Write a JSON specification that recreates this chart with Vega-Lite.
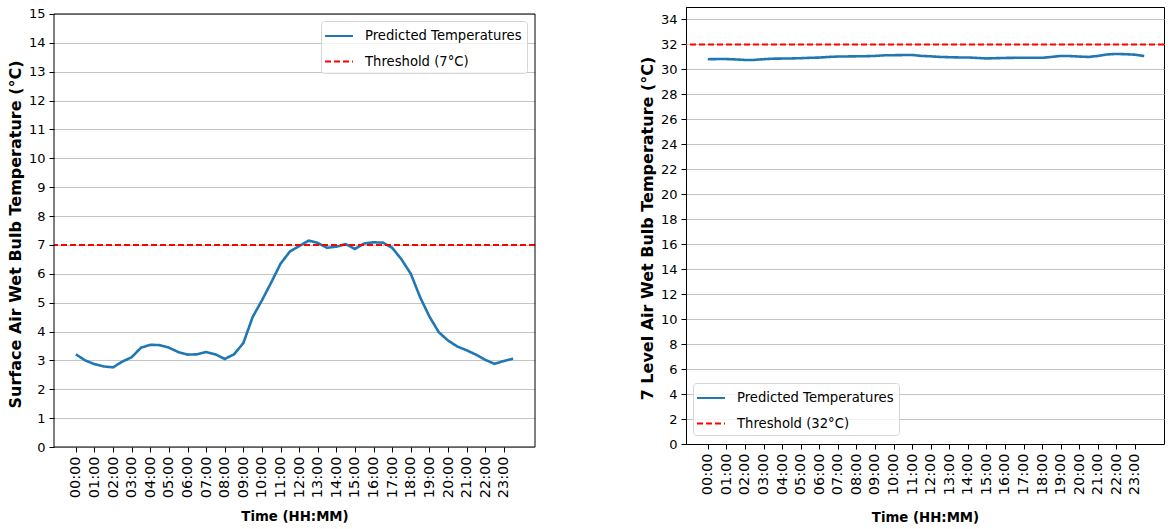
{
  "$schema": "https://vega.github.io/schema/vega-lite/v6.json",
  "padding": {"left": 7, "top": 6, "right": 0, "bottom": 0},
  "background": "white",
  "spacing": 102,
  "config": {
    "font": "DejaVu Sans",
    "view": {"stroke": "#000", "strokeWidth": 1},
    "axis": {"domainColor": "#000", "tickColor": "#000", "tickSize": 5, "labelFontSize": 13, "labelColor": "#000", "labelFont": "DejaVu Sans", "titleFont": "DejaVu Sans", "titleFontSize": 16, "titleFontWeight": "bold", "titleColor": "#000", "labelPadding": 4, "titlePadding": 5, "labelOverlap": false},
    "axisY": {"grid": true, "gridColor": "#c4c4c4", "gridWidth": 1},
    "axisX": {"grid": false, "labelAngle": -90, "labelFontSize": 14.5, "titleFontSize": 13.3, "titlePadding": 12},
    "legend": {"title": null, "symbolType": "M-1.6,0H1.6", "symbolSize": 306, "symbolStrokeWidth": 2.2, "symbolOffset": 3, "labelFontSize": 13.2, "labelFont": "DejaVu Sans", "labelColor": "#000", "labelOffset": 16, "padding": 5, "rowPadding": 8.5, "fillColor": "rgba(255,255,255,0.8)", "strokeColor": "#d6d6d6", "cornerRadius": 3}
  },
  "datasets": {
    "surface": [
      {"hour": 0, "temp": 3.21, "series": "Predicted Temperatures"},
      {"hour": 0.5, "temp": 3.0, "series": "Predicted Temperatures"},
      {"hour": 1, "temp": 2.87, "series": "Predicted Temperatures"},
      {"hour": 1.5, "temp": 2.79, "series": "Predicted Temperatures"},
      {"hour": 2, "temp": 2.76, "series": "Predicted Temperatures"},
      {"hour": 2.5, "temp": 2.96, "series": "Predicted Temperatures"},
      {"hour": 3, "temp": 3.11, "series": "Predicted Temperatures"},
      {"hour": 3.5, "temp": 3.44, "series": "Predicted Temperatures"},
      {"hour": 4, "temp": 3.54, "series": "Predicted Temperatures"},
      {"hour": 4.5, "temp": 3.53, "series": "Predicted Temperatures"},
      {"hour": 5, "temp": 3.44, "series": "Predicted Temperatures"},
      {"hour": 5.5, "temp": 3.29, "series": "Predicted Temperatures"},
      {"hour": 6, "temp": 3.2, "series": "Predicted Temperatures"},
      {"hour": 6.5, "temp": 3.21, "series": "Predicted Temperatures"},
      {"hour": 7, "temp": 3.29, "series": "Predicted Temperatures"},
      {"hour": 7.5, "temp": 3.21, "series": "Predicted Temperatures"},
      {"hour": 8, "temp": 3.05, "series": "Predicted Temperatures"},
      {"hour": 8.5, "temp": 3.21, "series": "Predicted Temperatures"},
      {"hour": 9, "temp": 3.6, "series": "Predicted Temperatures"},
      {"hour": 9.5, "temp": 4.5, "series": "Predicted Temperatures"},
      {"hour": 10, "temp": 5.08, "series": "Predicted Temperatures"},
      {"hour": 10.5, "temp": 5.7, "series": "Predicted Temperatures"},
      {"hour": 11, "temp": 6.35, "series": "Predicted Temperatures"},
      {"hour": 11.5, "temp": 6.77, "series": "Predicted Temperatures"},
      {"hour": 12, "temp": 6.96, "series": "Predicted Temperatures"},
      {"hour": 12.5, "temp": 7.15, "series": "Predicted Temperatures"},
      {"hour": 13, "temp": 7.07, "series": "Predicted Temperatures"},
      {"hour": 13.5, "temp": 6.9, "series": "Predicted Temperatures"},
      {"hour": 14, "temp": 6.94, "series": "Predicted Temperatures"},
      {"hour": 14.5, "temp": 7.03, "series": "Predicted Temperatures"},
      {"hour": 15, "temp": 6.86, "series": "Predicted Temperatures"},
      {"hour": 15.5, "temp": 7.05, "series": "Predicted Temperatures"},
      {"hour": 16, "temp": 7.09, "series": "Predicted Temperatures"},
      {"hour": 16.5, "temp": 7.08, "series": "Predicted Temperatures"},
      {"hour": 17, "temp": 6.9, "series": "Predicted Temperatures"},
      {"hour": 17.5, "temp": 6.5, "series": "Predicted Temperatures"},
      {"hour": 18, "temp": 6.0, "series": "Predicted Temperatures"},
      {"hour": 18.5, "temp": 5.19, "series": "Predicted Temperatures"},
      {"hour": 19, "temp": 4.52, "series": "Predicted Temperatures"},
      {"hour": 19.5, "temp": 3.98, "series": "Predicted Temperatures"},
      {"hour": 20, "temp": 3.69, "series": "Predicted Temperatures"},
      {"hour": 20.5, "temp": 3.48, "series": "Predicted Temperatures"},
      {"hour": 21, "temp": 3.35, "series": "Predicted Temperatures"},
      {"hour": 21.5, "temp": 3.2, "series": "Predicted Temperatures"},
      {"hour": 22, "temp": 3.02, "series": "Predicted Temperatures"},
      {"hour": 22.5, "temp": 2.88, "series": "Predicted Temperatures"},
      {"hour": 23, "temp": 2.98, "series": "Predicted Temperatures"},
      {"hour": 23.5, "temp": 3.06, "series": "Predicted Temperatures"}
    ],
    "level7": [
      {"hour": 0, "temp": 30.82, "series": "Predicted Temperatures"},
      {"hour": 0.5, "temp": 30.83, "series": "Predicted Temperatures"},
      {"hour": 1, "temp": 30.83, "series": "Predicted Temperatures"},
      {"hour": 1.5, "temp": 30.8, "series": "Predicted Temperatures"},
      {"hour": 2, "temp": 30.76, "series": "Predicted Temperatures"},
      {"hour": 2.5, "temp": 30.76, "series": "Predicted Temperatures"},
      {"hour": 3, "temp": 30.82, "series": "Predicted Temperatures"},
      {"hour": 3.5, "temp": 30.86, "series": "Predicted Temperatures"},
      {"hour": 4, "temp": 30.87, "series": "Predicted Temperatures"},
      {"hour": 4.5, "temp": 30.88, "series": "Predicted Temperatures"},
      {"hour": 5, "temp": 30.9, "series": "Predicted Temperatures"},
      {"hour": 5.5, "temp": 30.93, "series": "Predicted Temperatures"},
      {"hour": 6, "temp": 30.95, "series": "Predicted Temperatures"},
      {"hour": 6.5, "temp": 31.0, "series": "Predicted Temperatures"},
      {"hour": 7, "temp": 31.03, "series": "Predicted Temperatures"},
      {"hour": 7.5, "temp": 31.04, "series": "Predicted Temperatures"},
      {"hour": 8, "temp": 31.05, "series": "Predicted Temperatures"},
      {"hour": 8.5, "temp": 31.06, "series": "Predicted Temperatures"},
      {"hour": 9, "temp": 31.08, "series": "Predicted Temperatures"},
      {"hour": 9.5, "temp": 31.13, "series": "Predicted Temperatures"},
      {"hour": 10, "temp": 31.14, "series": "Predicted Temperatures"},
      {"hour": 10.5, "temp": 31.15, "series": "Predicted Temperatures"},
      {"hour": 11, "temp": 31.16, "series": "Predicted Temperatures"},
      {"hour": 11.5, "temp": 31.08, "series": "Predicted Temperatures"},
      {"hour": 12, "temp": 31.05, "series": "Predicted Temperatures"},
      {"hour": 12.5, "temp": 31.0, "series": "Predicted Temperatures"},
      {"hour": 13, "temp": 30.98, "series": "Predicted Temperatures"},
      {"hour": 13.5, "temp": 30.96, "series": "Predicted Temperatures"},
      {"hour": 14, "temp": 30.96, "series": "Predicted Temperatures"},
      {"hour": 14.5, "temp": 30.92, "series": "Predicted Temperatures"},
      {"hour": 15, "temp": 30.88, "series": "Predicted Temperatures"},
      {"hour": 15.5, "temp": 30.9, "series": "Predicted Temperatures"},
      {"hour": 16, "temp": 30.92, "series": "Predicted Temperatures"},
      {"hour": 16.5, "temp": 30.93, "series": "Predicted Temperatures"},
      {"hour": 17, "temp": 30.94, "series": "Predicted Temperatures"},
      {"hour": 17.5, "temp": 30.93, "series": "Predicted Temperatures"},
      {"hour": 18, "temp": 30.93, "series": "Predicted Temperatures"},
      {"hour": 18.5, "temp": 31.0, "series": "Predicted Temperatures"},
      {"hour": 19, "temp": 31.08, "series": "Predicted Temperatures"},
      {"hour": 19.5, "temp": 31.07, "series": "Predicted Temperatures"},
      {"hour": 20, "temp": 31.03, "series": "Predicted Temperatures"},
      {"hour": 20.5, "temp": 31.0, "series": "Predicted Temperatures"},
      {"hour": 21, "temp": 31.08, "series": "Predicted Temperatures"},
      {"hour": 21.5, "temp": 31.2, "series": "Predicted Temperatures"},
      {"hour": 22, "temp": 31.24, "series": "Predicted Temperatures"},
      {"hour": 22.5, "temp": 31.22, "series": "Predicted Temperatures"},
      {"hour": 23, "temp": 31.18, "series": "Predicted Temperatures"},
      {"hour": 23.5, "temp": 31.07, "series": "Predicted Temperatures"}
    ],
    "thr1": [{"series": "Threshold (7°C)", "value": 7}],
    "thr2": [{"series": "Threshold (32°C)", "value": 32}]
  },
  "resolve": {"scale": {"color": "independent", "strokeDash": "independent", "x": "independent", "y": "independent"}},
  "hconcat": [
    {
      "width": 481,
      "height": 440,
      "view": {"stroke": null},
      "layer": [
        {
          "data": {"name": "surface"},
          "mark": {"type": "line", "strokeWidth": 2.6},
          "encoding": {
            "x": {"field": "hour", "type": "quantitative", "scale": {"domain": [-1.175, 24.675], "nice": false, "zero": false}, "axis": {"domain": false, "titlePadding": 12, "values": [0,1,2,3,4,5,6,7,8,9,10,11,12,13,14,15,16,17,18,19,20,21,22,23], "labelExpr": "(datum.value < 10 ? '0' : '') + datum.value + ':00'", "title": "Time (HH:MM)"}},
            "y": {"field": "temp", "type": "quantitative", "scale": {"domain": [0, 15.242], "nice": false}, "axis": {"domain": false, "titleY": 227, "values": [0,1,2,3,4,5,6,7,8,9,10,11,12,13,14,15], "title": "Surface Air Wet Bulb Temperature (°C)"}},
            "color": {"field": "series", "type": "nominal", "scale": {"domain": ["Predicted Temperatures", "Threshold (7°C)"], "range": ["#1f77b4", "#ff0000"]}, "legend": {"orient": "none", "legendX": 267, "legendY": 14}},
            "strokeDash": {"field": "series", "type": "nominal", "scale": {"domain": ["Predicted Temperatures", "Threshold (7°C)"], "range": [[1, 0], [6, 3]]}, "legend": {"orient": "none", "legendX": 267, "legendY": 14}}
          }
        },
        {
          "data": {"name": "thr1"},
          "mark": {"type": "rule", "strokeWidth": 2},
          "encoding": {
            "y": {"field": "value", "type": "quantitative", "axis": {"domain": false, "titleY": 227, "values": [0,1,2,3,4,5,6,7,8,9,10,11,12,13,14,15], "title": "Surface Air Wet Bulb Temperature (°C)"}},
            "color": {"field": "series", "type": "nominal"},
            "strokeDash": {"field": "series", "type": "nominal"}
          }
        },
        {
          "data": {"values": [{}]},
          "mark": {"type": "rect", "filled": false, "stroke": "#000", "strokeWidth": 1},
          "encoding": {
            "x": {"datum": -1.175, "type": "quantitative", "axis": {"domain": false, "titlePadding": 12, "values": [0,1,2,3,4,5,6,7,8,9,10,11,12,13,14,15,16,17,18,19,20,21,22,23], "labelExpr": "(datum.value < 10 ? '0' : '') + datum.value + ':00'", "title": "Time (HH:MM)"}},
            "x2": {"datum": 24.675},
            "y": {"datum": 0, "type": "quantitative", "axis": {"domain": false, "titleY": 227, "values": [0,1,2,3,4,5,6,7,8,9,10,11,12,13,14,15], "title": "Surface Air Wet Bulb Temperature (°C)"}},
            "y2": {"datum": 15}
          }
        }
      ]
    },
    {
      "width": 478,
      "height": 437,
      "layer": [
        {
          "data": {"name": "level7"},
          "mark": {"type": "line", "strokeWidth": 2.6},
          "encoding": {
            "x": {"field": "hour", "type": "quantitative", "scale": {"domain": [-1.175, 24.565], "nice": false, "zero": false}, "axis": {"titlePadding": 16, "values": [0,1,2,3,4,5,6,7,8,9,10,11,12,13,14,15,16,17,18,19,20,21,22,23], "labelExpr": "(datum.value < 10 ? '0' : '') + datum.value + ':00'", "title": "Time (HH:MM)"}},
            "y": {"field": "temp", "type": "quantitative", "scale": {"domain": [0, 35], "nice": false}, "axis": {"titleY": 221, "values": [0,2,4,6,8,10,12,14,16,18,20,22,24,26,28,30,32,34], "title": "7 Level Air Wet Bulb Temperature (°C)"}},
            "color": {"field": "series", "type": "nominal", "scale": {"domain": ["Predicted Temperatures", "Threshold (32°C)"], "range": ["#1f77b4", "#ff0000"]}, "legend": {"orient": "none", "legendX": 7, "legendY": 376}},
            "strokeDash": {"field": "series", "type": "nominal", "scale": {"domain": ["Predicted Temperatures", "Threshold (32°C)"], "range": [[1, 0], [6, 3]]}, "legend": {"orient": "none", "legendX": 7, "legendY": 376}}
          }
        },
        {
          "data": {"name": "thr2"},
          "mark": {"type": "rule", "strokeWidth": 2},
          "encoding": {
            "y": {"field": "value", "type": "quantitative", "axis": {"titleY": 221, "values": [0,2,4,6,8,10,12,14,16,18,20,22,24,26,28,30,32,34], "title": "7 Level Air Wet Bulb Temperature (°C)"}},
            "color": {"field": "series", "type": "nominal"},
            "strokeDash": {"field": "series", "type": "nominal"}
          }
        }
      ]
    }
  ]
}
